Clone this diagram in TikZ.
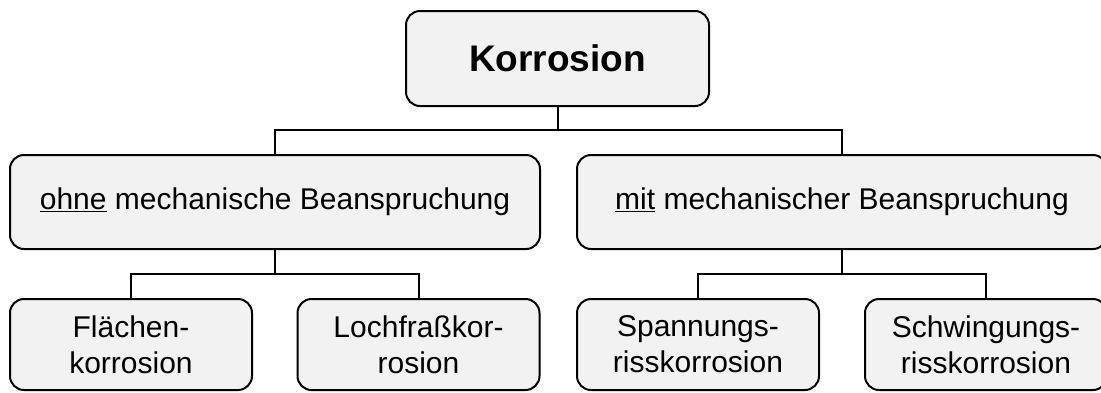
\documentclass[tikz,border=0pt]{standalone}
\usepackage{fontspec}
\setmainfont{Liberation Sans}
\definecolor{boxfill}{RGB}{242,242,242}
\begin{document}
\begin{tikzpicture}[x=1pt,y=-1pt,
  box/.style={draw=black, line width=2pt, fill=boxfill, rounded corners=14pt,
    inner sep=0pt, align=center, text=black},
  link/.style={draw=black, line width=2pt},
  rootbox/.style={box, minimum width=303pt, minimum height=95pt,
    font=\fontsize{37}{42}\selectfont\bfseries},
  groupbox/.style={box, minimum width=530pt, minimum height=94pt,
    font=\fontsize{30}{35}\selectfont},
  leafbox/.style={box, minimum width=242pt, minimum height=91pt,
    font=\fontsize{30}{36}\selectfont}]
\useasboundingbox (0,0) rectangle (1101,392);
\clip (0,0) rectangle (1101,392);

% root
\node[rootbox] (top) at (557.5,58.5) {Korrosion};

% second level
\node[groupbox] (ohne) at (275,202) {\underline{ohne} mechanische Beanspruchung};
\node[groupbox] (mit) at (842,202) {\underline{mit} mechanischer Beanspruchung};

% leaves
\node[leafbox] (flaeche) at (131,344.5) {Flächen-\\korrosion};
\node[leafbox] (loch) at (418.5,344.5) {Lochfraßkor-\\rosion};
\node[leafbox] (spann) at (698,344.5) {Spannungs-\\risskorrosion};
\node[leafbox] (schwing) at (986,344.5) {Schwingungs-\\risskorrosion};

% junction points of the connectors
\coordinate (j1) at (557.5,130);
\coordinate (j2) at (275,274);
\coordinate (j3) at (842,274);

\draw[link] (top.south) -- (j1);
\draw[link] (ohne.north) |- (j1) -| (mit.north);

\draw[link] (ohne.south) -- (j2);
\draw[link] (flaeche.north) |- (j2) -| (loch.north);

\draw[link] (mit.south) -- (j3);
\draw[link] (spann.north) |- (j3) -| (schwing.north);
\end{tikzpicture}
\end{document}
